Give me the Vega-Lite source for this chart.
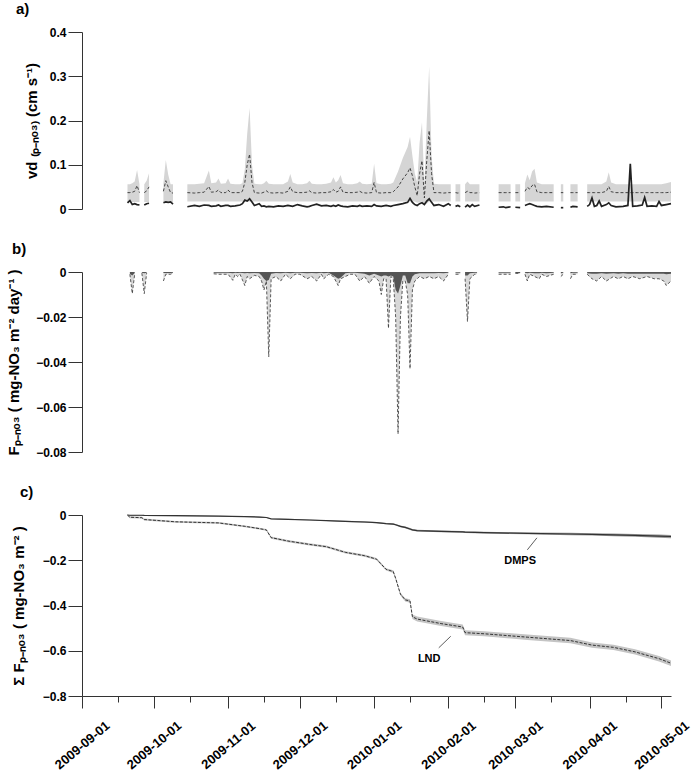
{
  "$schema": "https://vega.github.io/schema/vega-lite/v6.json",
  "padding": {"top": 2, "left": 6, "right": 5, "bottom": 0},
  "spacing": 27,
  "config": {
    "view": {"stroke": null},
    "font": "Liberation Sans",
    "axis": {
      "grid": false,
      "labelFont": "Liberation Sans",
      "labelFontWeight": "bold",
      "labelFontSize": 12,
      "labelColor": "#000",
      "titleFont": "Liberation Sans",
      "titleFontWeight": "bold",
      "titleFontSize": 15,
      "titleColor": "#000",
      "domainColor": "#333",
      "tickColor": "#333",
      "tickSize": 14,
      "labelPadding": 2
    },
    "title": {"fontSize": 15, "fontWeight": "bold", "font": "Liberation Sans", "anchor": "start", "frame": "group", "offset": 9}
  },
  "datasets": {
    "va": [
      {"d": "2009-09-20", "s": 1, "lo": 0.016, "hi": 0.056, "m": 0.037, "k": 0.014},
      {"d": "2009-09-21", "s": 1, "lo": 0.016, "hi": 0.056, "m": 0.037, "k": 0.019},
      {"d": "2009-09-22", "s": 1, "lo": 0.016, "hi": 0.058, "m": 0.038, "k": 0.010},
      {"d": "2009-09-23", "s": 1, "lo": 0.016, "hi": 0.062, "m": 0.040, "k": 0.012},
      {"d": "2009-09-24", "s": 1, "lo": 0.016, "hi": 0.088, "m": 0.053, "k": 0.010},
      {"d": "2009-09-25", "s": 1, "lo": 0.016, "hi": 0.056, "m": 0.037, "k": 0.009},
      {"d": "2009-09-27", "s": 2, "lo": 0.016, "hi": 0.056, "m": 0.037, "k": 0.009},
      {"d": "2009-09-28", "s": 2, "lo": 0.016, "hi": 0.064, "m": 0.041, "k": 0.012},
      {"d": "2009-09-29", "s": 2, "lo": 0.016, "hi": 0.081, "m": 0.050, "k": 0.013},
      {"d": "2009-10-05", "s": 3, "lo": 0.016, "hi": 0.058, "m": 0.040, "k": 0.014},
      {"d": "2009-10-06", "s": 3, "lo": 0.016, "hi": 0.111, "m": 0.064, "k": 0.016},
      {"d": "2009-10-07", "s": 3, "lo": 0.016, "hi": 0.078, "m": 0.050, "k": 0.015},
      {"d": "2009-10-08", "s": 3, "lo": 0.016, "hi": 0.056, "m": 0.037, "k": 0.016},
      {"d": "2009-10-09", "s": 3, "lo": 0.016, "hi": 0.056, "m": 0.036, "k": 0.011},
      {"d": "2009-10-15", "s": 4, "lo": 0.017, "hi": 0.056, "m": 0.037, "k": 0.005},
      {"d": "2009-10-18", "s": 4, "lo": 0.017, "hi": 0.056, "m": 0.036, "k": 0.008},
      {"d": "2009-10-20", "s": 4, "lo": 0.017, "hi": 0.057, "m": 0.037, "k": 0.006},
      {"d": "2009-10-22", "s": 4, "lo": 0.017, "hi": 0.058, "m": 0.038, "k": 0.009},
      {"d": "2009-10-24", "s": 4, "lo": 0.017, "hi": 0.087, "m": 0.051, "k": 0.008},
      {"d": "2009-10-25", "s": 4, "lo": 0.017, "hi": 0.058, "m": 0.038, "k": 0.006},
      {"d": "2009-10-27", "s": 4, "lo": 0.017, "hi": 0.060, "m": 0.039, "k": 0.007},
      {"d": "2009-10-28", "s": 4, "lo": 0.017, "hi": 0.069, "m": 0.043, "k": 0.009},
      {"d": "2009-10-29", "s": 4, "lo": 0.017, "hi": 0.057, "m": 0.037, "k": 0.006},
      {"d": "2009-10-31", "s": 4, "lo": 0.017, "hi": 0.058, "m": 0.037, "k": 0.008},
      {"d": "2009-11-01", "s": 4, "lo": 0.017, "hi": 0.069, "m": 0.043, "k": 0.008},
      {"d": "2009-11-02", "s": 4, "lo": 0.017, "hi": 0.057, "m": 0.037, "k": 0.006},
      {"d": "2009-11-04", "s": 4, "lo": 0.017, "hi": 0.056, "m": 0.037, "k": 0.007},
      {"d": "2009-11-06", "s": 4, "lo": 0.017, "hi": 0.056, "m": 0.037, "k": 0.009},
      {"d": "2009-11-07", "s": 4, "lo": 0.017, "hi": 0.058, "m": 0.040, "k": 0.012},
      {"d": "2009-11-08", "s": 4, "lo": 0.017, "hi": 0.090, "m": 0.060, "k": 0.020},
      {"d": "2009-11-09", "s": 4, "lo": 0.017, "hi": 0.170, "m": 0.100, "k": 0.018},
      {"d": "2009-11-10", "s": 4, "lo": 0.017, "hi": 0.228, "m": 0.124, "k": 0.023},
      {"d": "2009-11-11", "s": 4, "lo": 0.017, "hi": 0.100, "m": 0.060, "k": 0.016},
      {"d": "2009-11-12", "s": 4, "lo": 0.017, "hi": 0.057, "m": 0.037, "k": 0.008},
      {"d": "2009-11-14", "s": 4, "lo": 0.017, "hi": 0.056, "m": 0.036, "k": 0.012},
      {"d": "2009-11-15", "s": 4, "lo": 0.017, "hi": 0.056, "m": 0.036, "k": 0.006},
      {"d": "2009-11-16", "s": 4, "lo": 0.017, "hi": 0.058, "m": 0.038, "k": 0.007},
      {"d": "2009-11-17", "s": 4, "lo": 0.017, "hi": 0.064, "m": 0.041, "k": 0.005},
      {"d": "2009-11-18", "s": 4, "lo": 0.017, "hi": 0.057, "m": 0.037, "k": 0.006},
      {"d": "2009-11-20", "s": 4, "lo": 0.017, "hi": 0.056, "m": 0.036, "k": 0.005},
      {"d": "2009-11-22", "s": 4, "lo": 0.017, "hi": 0.056, "m": 0.037, "k": 0.007},
      {"d": "2009-11-24", "s": 4, "lo": 0.017, "hi": 0.056, "m": 0.036, "k": 0.006},
      {"d": "2009-11-26", "s": 4, "lo": 0.017, "hi": 0.062, "m": 0.040, "k": 0.008},
      {"d": "2009-11-27", "s": 4, "lo": 0.017, "hi": 0.079, "m": 0.050, "k": 0.007},
      {"d": "2009-11-28", "s": 4, "lo": 0.017, "hi": 0.060, "m": 0.039, "k": 0.006},
      {"d": "2009-11-30", "s": 4, "lo": 0.017, "hi": 0.056, "m": 0.037, "k": 0.010},
      {"d": "2009-12-02", "s": 4, "lo": 0.017, "hi": 0.056, "m": 0.037, "k": 0.007},
      {"d": "2009-12-04", "s": 4, "lo": 0.017, "hi": 0.058, "m": 0.038, "k": 0.005},
      {"d": "2009-12-05", "s": 4, "lo": 0.017, "hi": 0.064, "m": 0.041, "k": 0.006},
      {"d": "2009-12-06", "s": 4, "lo": 0.017, "hi": 0.057, "m": 0.037, "k": 0.008},
      {"d": "2009-12-08", "s": 4, "lo": 0.017, "hi": 0.056, "m": 0.036, "k": 0.011},
      {"d": "2009-12-10", "s": 4, "lo": 0.017, "hi": 0.056, "m": 0.037, "k": 0.007},
      {"d": "2009-12-12", "s": 4, "lo": 0.017, "hi": 0.057, "m": 0.037, "k": 0.008},
      {"d": "2009-12-14", "s": 4, "lo": 0.017, "hi": 0.060, "m": 0.039, "k": 0.006},
      {"d": "2009-12-15", "s": 4, "lo": 0.017, "hi": 0.072, "m": 0.044, "k": 0.008},
      {"d": "2009-12-16", "s": 4, "lo": 0.017, "hi": 0.060, "m": 0.038, "k": 0.006},
      {"d": "2009-12-17", "s": 4, "lo": 0.017, "hi": 0.065, "m": 0.040, "k": 0.009},
      {"d": "2009-12-18", "s": 4, "lo": 0.017, "hi": 0.077, "m": 0.050, "k": 0.007},
      {"d": "2009-12-19", "s": 4, "lo": 0.017, "hi": 0.058, "m": 0.038, "k": 0.006},
      {"d": "2009-12-21", "s": 4, "lo": 0.017, "hi": 0.056, "m": 0.037, "k": 0.005},
      {"d": "2009-12-23", "s": 4, "lo": 0.017, "hi": 0.056, "m": 0.037, "k": 0.007},
      {"d": "2009-12-25", "s": 4, "lo": 0.017, "hi": 0.058, "m": 0.038, "k": 0.006},
      {"d": "2009-12-26", "s": 4, "lo": 0.017, "hi": 0.062, "m": 0.040, "k": 0.008},
      {"d": "2009-12-27", "s": 4, "lo": 0.017, "hi": 0.057, "m": 0.037, "k": 0.006},
      {"d": "2009-12-29", "s": 4, "lo": 0.017, "hi": 0.056, "m": 0.036, "k": 0.007},
      {"d": "2009-12-31", "s": 4, "lo": 0.017, "hi": 0.057, "m": 0.037, "k": 0.006},
      {"d": "2010-01-01", "s": 4, "lo": 0.017, "hi": 0.102, "m": 0.060, "k": 0.010},
      {"d": "2010-01-02", "s": 4, "lo": 0.017, "hi": 0.058, "m": 0.037, "k": 0.007},
      {"d": "2010-01-04", "s": 4, "lo": 0.017, "hi": 0.056, "m": 0.036, "k": 0.006},
      {"d": "2010-01-06", "s": 4, "lo": 0.017, "hi": 0.056, "m": 0.037, "k": 0.008},
      {"d": "2010-01-08", "s": 4, "lo": 0.017, "hi": 0.057, "m": 0.037, "k": 0.006},
      {"d": "2010-01-09", "s": 4, "lo": 0.017, "hi": 0.060, "m": 0.039, "k": 0.008},
      {"d": "2010-01-11", "s": 4, "lo": 0.017, "hi": 0.085, "m": 0.050, "k": 0.010},
      {"d": "2010-01-13", "s": 4, "lo": 0.017, "hi": 0.115, "m": 0.068, "k": 0.012},
      {"d": "2010-01-15", "s": 4, "lo": 0.017, "hi": 0.140, "m": 0.082, "k": 0.015},
      {"d": "2010-01-16", "s": 4, "lo": 0.017, "hi": 0.163, "m": 0.093, "k": 0.024},
      {"d": "2010-01-17", "s": 4, "lo": 0.017, "hi": 0.120, "m": 0.075, "k": 0.015},
      {"d": "2010-01-18", "s": 4, "lo": 0.017, "hi": 0.080, "m": 0.050, "k": 0.010},
      {"d": "2010-01-19", "s": 4, "lo": 0.014, "hi": 0.060, "m": 0.030, "k": 0.008},
      {"d": "2010-01-20", "s": 4, "lo": 0.015, "hi": 0.150, "m": 0.080, "k": 0.012},
      {"d": "2010-01-21", "s": 4, "lo": 0.017, "hi": 0.196, "m": 0.109, "k": 0.014},
      {"d": "2010-01-22", "s": 4, "lo": 0.010, "hi": 0.050, "m": 0.025, "k": 0.010},
      {"d": "2010-01-23", "s": 4, "lo": 0.012, "hi": 0.200, "m": 0.110, "k": 0.018},
      {"d": "2010-01-24", "s": 4, "lo": 0.017, "hi": 0.322, "m": 0.177, "k": 0.023},
      {"d": "2010-01-25", "s": 4, "lo": 0.017, "hi": 0.120, "m": 0.080, "k": 0.015},
      {"d": "2010-01-26", "s": 4, "lo": 0.017, "hi": 0.057, "m": 0.037, "k": 0.008},
      {"d": "2010-01-28", "s": 4, "lo": 0.017, "hi": 0.056, "m": 0.037, "k": 0.010},
      {"d": "2010-01-30", "s": 4, "lo": 0.017, "hi": 0.056, "m": 0.036, "k": 0.006},
      {"d": "2010-02-01", "s": 4, "lo": 0.017, "hi": 0.056, "m": 0.037, "k": 0.012},
      {"d": "2010-02-02", "s": 4, "lo": 0.017, "hi": 0.056, "m": 0.037, "k": 0.008},
      {"d": "2010-02-04", "s": 5, "lo": 0.017, "hi": 0.056, "m": 0.037, "k": 0.006},
      {"d": "2010-02-05", "s": 5, "lo": 0.017, "hi": 0.056, "m": 0.036, "k": 0.008},
      {"d": "2010-02-06", "s": 5, "lo": 0.017, "hi": 0.056, "m": 0.037, "k": 0.005},
      {"d": "2010-02-08", "s": 6, "lo": 0.017, "hi": 0.056, "m": 0.037, "k": 0.004},
      {"d": "2010-02-09", "s": 6, "lo": 0.017, "hi": 0.062, "m": 0.040, "k": 0.009},
      {"d": "2010-02-10", "s": 6, "lo": 0.017, "hi": 0.056, "m": 0.037, "k": 0.005},
      {"d": "2010-02-11", "s": 6, "lo": 0.017, "hi": 0.056, "m": 0.037, "k": 0.010},
      {"d": "2010-02-12", "s": 6, "lo": 0.017, "hi": 0.056, "m": 0.036, "k": 0.006},
      {"d": "2010-02-14", "s": 6, "lo": 0.017, "hi": 0.056, "m": 0.037, "k": 0.009},
      {"d": "2010-02-22", "s": 7, "lo": 0.017, "hi": 0.056, "m": 0.037, "k": 0.004},
      {"d": "2010-02-24", "s": 7, "lo": 0.017, "hi": 0.056, "m": 0.037, "k": 0.005},
      {"d": "2010-02-25", "s": 7, "lo": 0.017, "hi": 0.056, "m": 0.037, "k": 0.003},
      {"d": "2010-02-27", "s": 7, "lo": 0.017, "hi": 0.056, "m": 0.037, "k": 0.005},
      {"d": "2010-03-01", "s": 8, "lo": 0.017, "hi": 0.056, "m": 0.037, "k": 0.004},
      {"d": "2010-03-03", "s": 8, "lo": 0.017, "hi": 0.056, "m": 0.037, "k": 0.003},
      {"d": "2010-03-05", "s": 9, "lo": 0.017, "hi": 0.058, "m": 0.040, "k": 0.008},
      {"d": "2010-03-06", "s": 9, "lo": 0.017, "hi": 0.078, "m": 0.049, "k": 0.010},
      {"d": "2010-03-07", "s": 9, "lo": 0.017, "hi": 0.065, "m": 0.045, "k": 0.012},
      {"d": "2010-03-08", "s": 9, "lo": 0.017, "hi": 0.085, "m": 0.053, "k": 0.010},
      {"d": "2010-03-09", "s": 9, "lo": 0.017, "hi": 0.091, "m": 0.056, "k": 0.008},
      {"d": "2010-03-10", "s": 9, "lo": 0.017, "hi": 0.060, "m": 0.039, "k": 0.006},
      {"d": "2010-03-12", "s": 9, "lo": 0.017, "hi": 0.056, "m": 0.037, "k": 0.005},
      {"d": "2010-03-14", "s": 9, "lo": 0.017, "hi": 0.056, "m": 0.037, "k": 0.006},
      {"d": "2010-03-17", "s": 9, "lo": 0.017, "hi": 0.056, "m": 0.037, "k": 0.004},
      {"d": "2010-03-20", "s": 10, "lo": 0.017, "hi": 0.056, "m": 0.037, "k": 0.003},
      {"d": "2010-03-21", "s": 10, "lo": 0.017, "hi": 0.056, "m": 0.037, "k": 0.003},
      {"d": "2010-03-24", "s": 11, "lo": 0.017, "hi": 0.056, "m": 0.037, "k": 0.004},
      {"d": "2010-03-25", "s": 11, "lo": 0.017, "hi": 0.056, "m": 0.037, "k": 0.006},
      {"d": "2010-03-27", "s": 11, "lo": 0.017, "hi": 0.056, "m": 0.037, "k": 0.005},
      {"d": "2010-03-31", "s": 12, "lo": 0.017, "hi": 0.056, "m": 0.037, "k": 0.006},
      {"d": "2010-04-01", "s": 12, "lo": 0.017, "hi": 0.056, "m": 0.037, "k": 0.010},
      {"d": "2010-04-02", "s": 12, "lo": 0.017, "hi": 0.056, "m": 0.037, "k": 0.025},
      {"d": "2010-04-03", "s": 12, "lo": 0.017, "hi": 0.056, "m": 0.037, "k": 0.006},
      {"d": "2010-04-04", "s": 12, "lo": 0.017, "hi": 0.056, "m": 0.037, "k": 0.008},
      {"d": "2010-04-05", "s": 12, "lo": 0.017, "hi": 0.056, "m": 0.037, "k": 0.018},
      {"d": "2010-04-06", "s": 12, "lo": 0.017, "hi": 0.056, "m": 0.037, "k": 0.006},
      {"d": "2010-04-08", "s": 12, "lo": 0.017, "hi": 0.062, "m": 0.040, "k": 0.010},
      {"d": "2010-04-09", "s": 12, "lo": 0.017, "hi": 0.083, "m": 0.051, "k": 0.014},
      {"d": "2010-04-10", "s": 12, "lo": 0.017, "hi": 0.060, "m": 0.039, "k": 0.008},
      {"d": "2010-04-12", "s": 12, "lo": 0.017, "hi": 0.056, "m": 0.037, "k": 0.005},
      {"d": "2010-04-15", "s": 12, "lo": 0.017, "hi": 0.056, "m": 0.037, "k": 0.006},
      {"d": "2010-04-17", "s": 12, "lo": 0.017, "hi": 0.056, "m": 0.037, "k": 0.008},
      {"d": "2010-04-18", "s": 12, "lo": 0.017, "hi": 0.056, "m": 0.037, "k": 0.102},
      {"d": "2010-04-19", "s": 12, "lo": 0.017, "hi": 0.056, "m": 0.037, "k": 0.006},
      {"d": "2010-04-21", "s": 12, "lo": 0.017, "hi": 0.056, "m": 0.037, "k": 0.007},
      {"d": "2010-04-23", "s": 12, "lo": 0.017, "hi": 0.056, "m": 0.037, "k": 0.009},
      {"d": "2010-04-24", "s": 12, "lo": 0.017, "hi": 0.056, "m": 0.037, "k": 0.026},
      {"d": "2010-04-25", "s": 12, "lo": 0.017, "hi": 0.056, "m": 0.037, "k": 0.006},
      {"d": "2010-04-27", "s": 12, "lo": 0.017, "hi": 0.056, "m": 0.037, "k": 0.007},
      {"d": "2010-04-29", "s": 12, "lo": 0.017, "hi": 0.056, "m": 0.037, "k": 0.006},
      {"d": "2010-04-30", "s": 12, "lo": 0.017, "hi": 0.056, "m": 0.037, "k": 0.017},
      {"d": "2010-05-01", "s": 12, "lo": 0.017, "hi": 0.056, "m": 0.037, "k": 0.008},
      {"d": "2010-05-03", "s": 12, "lo": 0.017, "hi": 0.058, "m": 0.037, "k": 0.010},
      {"d": "2010-05-05", "s": 12, "lo": 0.017, "hi": 0.061, "m": 0.038, "k": 0.012}
    ],
    "fb": [
      {"d": "2009-09-21", "s": 1, "g": -0.001, "k": -0.0008},
      {"d": "2009-09-22", "s": 1, "g": -0.0096, "k": -0.0015},
      {"d": "2009-09-23", "s": 1, "g": -0.001, "k": -0.0004},
      {"d": "2009-09-26", "s": 2, "g": -0.0005, "k": -0.0003},
      {"d": "2009-09-27", "s": 2, "g": -0.0096, "k": -0.0006},
      {"d": "2009-09-28", "s": 2, "g": -0.0005, "k": -0.0003},
      {"d": "2009-10-05", "s": 3, "g": -0.004, "k": -0.0004},
      {"d": "2009-10-06", "s": 3, "g": -0.001, "k": -0.0004},
      {"d": "2009-10-08", "s": 3, "g": -0.001, "k": -0.0004},
      {"d": "2009-10-09", "s": 3, "g": -0.0005, "k": -0.0003},
      {"d": "2009-10-26", "s": 4, "g": -0.0008, "k": -0.0003},
      {"d": "2009-10-28", "s": 4, "g": -0.001, "k": -0.0003},
      {"d": "2009-10-30", "s": 4, "g": -0.001, "k": -0.0003},
      {"d": "2009-11-01", "s": 4, "g": -0.001, "k": -0.0003},
      {"d": "2009-11-03", "s": 4, "g": -0.0037, "k": -0.0005},
      {"d": "2009-11-04", "s": 4, "g": -0.001, "k": -0.0003},
      {"d": "2009-11-05", "s": 4, "g": -0.002, "k": -0.0004},
      {"d": "2009-11-06", "s": 4, "g": -0.001, "k": -0.0003},
      {"d": "2009-11-08", "s": 4, "g": -0.006, "k": -0.0006},
      {"d": "2009-11-09", "s": 4, "g": -0.002, "k": -0.0004},
      {"d": "2009-11-10", "s": 4, "g": -0.003, "k": -0.0005},
      {"d": "2009-11-12", "s": 4, "g": -0.0015, "k": -0.0004},
      {"d": "2009-11-14", "s": 4, "g": -0.002, "k": -0.0006},
      {"d": "2009-11-15", "s": 4, "g": -0.004, "k": -0.0015},
      {"d": "2009-11-16", "s": 4, "g": -0.008, "k": -0.003},
      {"d": "2009-11-17", "s": 4, "g": -0.004, "k": -0.004},
      {"d": "2009-11-18", "s": 4, "g": -0.0377, "k": -0.0035},
      {"d": "2009-11-19", "s": 4, "g": -0.003, "k": -0.0008},
      {"d": "2009-11-21", "s": 4, "g": -0.002, "k": -0.0004},
      {"d": "2009-11-23", "s": 4, "g": -0.004, "k": -0.0005},
      {"d": "2009-11-25", "s": 4, "g": -0.001, "k": -0.0003},
      {"d": "2009-11-27", "s": 4, "g": -0.003, "k": -0.0005},
      {"d": "2009-11-29", "s": 4, "g": -0.001, "k": -0.0003},
      {"d": "2009-12-01", "s": 4, "g": -0.001, "k": -0.0003},
      {"d": "2009-12-04", "s": 4, "g": -0.003, "k": -0.0005},
      {"d": "2009-12-06", "s": 4, "g": -0.002, "k": -0.0004},
      {"d": "2009-12-08", "s": 4, "g": -0.004, "k": -0.0005},
      {"d": "2009-12-10", "s": 4, "g": -0.001, "k": -0.0003},
      {"d": "2009-12-11", "s": 4, "g": -0.003, "k": -0.0005},
      {"d": "2009-12-13", "s": 4, "g": -0.001, "k": -0.0003},
      {"d": "2009-12-15", "s": 4, "g": -0.002, "k": -0.0015},
      {"d": "2009-12-17", "s": 4, "g": -0.006, "k": -0.003},
      {"d": "2009-12-18", "s": 4, "g": -0.003, "k": -0.0025},
      {"d": "2009-12-20", "s": 4, "g": -0.002, "k": -0.0006},
      {"d": "2009-12-22", "s": 4, "g": -0.001, "k": -0.0003},
      {"d": "2009-12-24", "s": 4, "g": -0.001, "k": -0.0003},
      {"d": "2009-12-26", "s": 4, "g": -0.004, "k": -0.0006},
      {"d": "2009-12-28", "s": 4, "g": -0.002, "k": -0.0008},
      {"d": "2009-12-30", "s": 4, "g": -0.005, "k": -0.0015},
      {"d": "2010-01-01", "s": 4, "g": -0.002, "k": -0.0008},
      {"d": "2010-01-03", "s": 4, "g": -0.004, "k": -0.0015},
      {"d": "2010-01-04", "s": 4, "g": -0.010, "k": -0.002},
      {"d": "2010-01-05", "s": 4, "g": -0.003, "k": -0.0015},
      {"d": "2010-01-06", "s": 4, "g": -0.003, "k": -0.0015},
      {"d": "2010-01-07", "s": 4, "g": -0.025, "k": -0.002},
      {"d": "2010-01-08", "s": 4, "g": -0.002, "k": -0.0015},
      {"d": "2010-01-09", "s": 4, "g": -0.003, "k": -0.002},
      {"d": "2010-01-10", "s": 4, "g": -0.020, "k": -0.008},
      {"d": "2010-01-11", "s": 4, "g": -0.072, "k": -0.0096},
      {"d": "2010-01-12", "s": 4, "g": -0.020, "k": -0.006},
      {"d": "2010-01-13", "s": 4, "g": -0.004, "k": -0.0015},
      {"d": "2010-01-14", "s": 4, "g": -0.004, "k": -0.0015},
      {"d": "2010-01-15", "s": 4, "g": -0.010, "k": -0.005},
      {"d": "2010-01-16", "s": 4, "g": -0.043, "k": -0.005},
      {"d": "2010-01-17", "s": 4, "g": -0.008, "k": -0.002},
      {"d": "2010-01-18", "s": 4, "g": -0.004, "k": -0.001},
      {"d": "2010-01-20", "s": 4, "g": -0.002, "k": -0.0005},
      {"d": "2010-01-22", "s": 4, "g": -0.003, "k": -0.0005},
      {"d": "2010-01-24", "s": 4, "g": -0.002, "k": -0.0005},
      {"d": "2010-01-26", "s": 4, "g": -0.003, "k": -0.0005},
      {"d": "2010-01-28", "s": 4, "g": -0.002, "k": -0.0004},
      {"d": "2010-01-30", "s": 4, "g": -0.004, "k": -0.0005},
      {"d": "2010-02-01", "s": 4, "g": -0.001, "k": -0.0003},
      {"d": "2010-02-04", "s": 5, "g": -0.001, "k": -0.0003},
      {"d": "2010-02-06", "s": 5, "g": -0.001, "k": -0.0003},
      {"d": "2010-02-08", "s": 6, "g": -0.003, "k": -0.0015},
      {"d": "2010-02-09", "s": 6, "g": -0.022, "k": -0.0015},
      {"d": "2010-02-10", "s": 6, "g": -0.003, "k": -0.0006},
      {"d": "2010-02-12", "s": 6, "g": -0.001, "k": -0.0003},
      {"d": "2010-02-13", "s": 6, "g": -0.001, "k": -0.0003},
      {"d": "2010-02-22", "s": 7, "g": -0.001, "k": -0.0003},
      {"d": "2010-02-27", "s": 7, "g": -0.001, "k": -0.0003},
      {"d": "2010-03-01", "s": 8, "g": -0.0006, "k": -0.0005},
      {"d": "2010-03-03", "s": 8, "g": -0.0006, "k": -0.0005},
      {"d": "2010-03-05", "s": 9, "g": -0.001, "k": -0.0003},
      {"d": "2010-03-06", "s": 9, "g": -0.004, "k": -0.0006},
      {"d": "2010-03-07", "s": 9, "g": -0.001, "k": -0.0003},
      {"d": "2010-03-09", "s": 9, "g": -0.002, "k": -0.0005},
      {"d": "2010-03-11", "s": 9, "g": -0.003, "k": -0.0005},
      {"d": "2010-03-12", "s": 9, "g": -0.001, "k": -0.0003},
      {"d": "2010-03-14", "s": 9, "g": -0.002, "k": -0.0005},
      {"d": "2010-03-17", "s": 9, "g": -0.001, "k": -0.0003},
      {"d": "2010-03-20", "s": 10, "g": -0.002, "k": -0.0005},
      {"d": "2010-03-21", "s": 10, "g": -0.001, "k": -0.0003},
      {"d": "2010-03-24", "s": 11, "g": -0.003, "k": -0.0005},
      {"d": "2010-03-25", "s": 11, "g": -0.001, "k": -0.0003},
      {"d": "2010-03-27", "s": 11, "g": -0.001, "k": -0.0003},
      {"d": "2010-03-31", "s": 12, "g": -0.001, "k": -0.0005},
      {"d": "2010-04-02", "s": 12, "g": -0.003, "k": -0.0008},
      {"d": "2010-04-04", "s": 12, "g": -0.004, "k": -0.0008},
      {"d": "2010-04-06", "s": 12, "g": -0.002, "k": -0.0006},
      {"d": "2010-04-08", "s": 12, "g": -0.004, "k": -0.0008},
      {"d": "2010-04-11", "s": 12, "g": -0.002, "k": -0.0006},
      {"d": "2010-04-13", "s": 12, "g": -0.003, "k": -0.0008},
      {"d": "2010-04-15", "s": 12, "g": -0.002, "k": -0.0006},
      {"d": "2010-04-17", "s": 12, "g": -0.003, "k": -0.0008},
      {"d": "2010-04-19", "s": 12, "g": -0.002, "k": -0.0008},
      {"d": "2010-04-22", "s": 12, "g": -0.003, "k": -0.0008},
      {"d": "2010-04-25", "s": 12, "g": -0.002, "k": -0.0008},
      {"d": "2010-04-28", "s": 12, "g": -0.003, "k": -0.0008},
      {"d": "2010-04-30", "s": 12, "g": -0.003, "k": -0.0008},
      {"d": "2010-05-02", "s": 12, "g": -0.004, "k": -0.0008},
      {"d": "2010-05-03", "s": 12, "g": -0.006, "k": -0.001},
      {"d": "2010-05-05", "s": 12, "g": -0.004, "k": -0.0008}
    ],
    "cu": [
      {"d": "2009-09-20", "l": 0, "llo": -0.004, "lhi": 0.0, "p": 0, "plo": -0.002, "phi": 0.0},
      {"d": "2009-09-21", "l": -0.010, "llo": -0.014, "lhi": -0.006, "p": -0.001, "plo": -0.003, "phi": 0.0},
      {"d": "2009-09-26", "l": -0.012, "llo": -0.016, "lhi": -0.008, "p": -0.001, "plo": -0.003, "phi": 0.0},
      {"d": "2009-09-27", "l": -0.020, "llo": -0.024, "lhi": -0.016, "p": -0.002, "plo": -0.004, "phi": 0.0},
      {"d": "2009-10-10", "l": -0.030, "llo": -0.034, "lhi": -0.026, "p": -0.003, "plo": -0.005, "phi": -0.001},
      {"d": "2009-10-28", "l": -0.035, "llo": -0.039, "lhi": -0.031, "p": -0.005, "plo": -0.007, "phi": -0.003},
      {"d": "2009-11-08", "l": -0.050, "llo": -0.054, "lhi": -0.046, "p": -0.007, "plo": -0.009, "phi": -0.005},
      {"d": "2009-11-14", "l": -0.060, "llo": -0.064, "lhi": -0.056, "p": -0.009, "plo": -0.011, "phi": -0.007},
      {"d": "2009-11-17", "l": -0.066, "llo": -0.070, "lhi": -0.062, "p": -0.011, "plo": -0.013, "phi": -0.009},
      {"d": "2009-11-19", "l": -0.100, "llo": -0.105, "lhi": -0.095, "p": -0.017, "plo": -0.019, "phi": -0.015},
      {"d": "2009-11-26", "l": -0.115, "llo": -0.120, "lhi": -0.110, "p": -0.019, "plo": -0.021, "phi": -0.017},
      {"d": "2009-12-05", "l": -0.130, "llo": -0.135, "lhi": -0.125, "p": -0.022, "plo": -0.024, "phi": -0.020},
      {"d": "2009-12-12", "l": -0.140, "llo": -0.145, "lhi": -0.135, "p": -0.025, "plo": -0.027, "phi": -0.023},
      {"d": "2009-12-20", "l": -0.165, "llo": -0.170, "lhi": -0.160, "p": -0.028, "plo": -0.031, "phi": -0.025},
      {"d": "2009-12-28", "l": -0.180, "llo": -0.185, "lhi": -0.175, "p": -0.031, "plo": -0.034, "phi": -0.028},
      {"d": "2010-01-02", "l": -0.195, "llo": -0.200, "lhi": -0.190, "p": -0.034, "plo": -0.037, "phi": -0.031},
      {"d": "2010-01-06", "l": -0.240, "llo": -0.245, "lhi": -0.235, "p": -0.038, "plo": -0.041, "phi": -0.035},
      {"d": "2010-01-09", "l": -0.250, "llo": -0.256, "lhi": -0.244, "p": -0.040, "plo": -0.043, "phi": -0.037},
      {"d": "2010-01-10", "l": -0.280, "llo": -0.286, "lhi": -0.274, "p": -0.043, "plo": -0.046, "phi": -0.040},
      {"d": "2010-01-12", "l": -0.350, "llo": -0.356, "lhi": -0.344, "p": -0.050, "plo": -0.054, "phi": -0.046},
      {"d": "2010-01-14", "l": -0.375, "llo": -0.382, "lhi": -0.368, "p": -0.055, "plo": -0.059, "phi": -0.051},
      {"d": "2010-01-16", "l": -0.380, "llo": -0.388, "lhi": -0.372, "p": -0.062, "plo": -0.066, "phi": -0.058},
      {"d": "2010-01-17", "l": -0.450, "llo": -0.460, "lhi": -0.440, "p": -0.066, "plo": -0.070, "phi": -0.062},
      {"d": "2010-01-19", "l": -0.460, "llo": -0.471, "lhi": -0.449, "p": -0.069, "plo": -0.073, "phi": -0.065},
      {"d": "2010-01-29", "l": -0.480, "llo": -0.491, "lhi": -0.469, "p": -0.072, "plo": -0.076, "phi": -0.068},
      {"d": "2010-02-07", "l": -0.495, "llo": -0.506, "lhi": -0.484, "p": -0.075, "plo": -0.079, "phi": -0.071},
      {"d": "2010-02-08", "l": -0.520, "llo": -0.531, "lhi": -0.509, "p": -0.076, "plo": -0.080, "phi": -0.072},
      {"d": "2010-02-16", "l": -0.525, "llo": -0.536, "lhi": -0.514, "p": -0.078, "plo": -0.082, "phi": -0.074},
      {"d": "2010-03-06", "l": -0.540, "llo": -0.552, "lhi": -0.528, "p": -0.081, "plo": -0.085, "phi": -0.077},
      {"d": "2010-03-24", "l": -0.555, "llo": -0.567, "lhi": -0.543, "p": -0.084, "plo": -0.089, "phi": -0.079},
      {"d": "2010-04-02", "l": -0.575, "llo": -0.587, "lhi": -0.563, "p": -0.086, "plo": -0.091, "phi": -0.081},
      {"d": "2010-04-11", "l": -0.585, "llo": -0.597, "lhi": -0.573, "p": -0.088, "plo": -0.094, "phi": -0.082},
      {"d": "2010-04-20", "l": -0.605, "llo": -0.617, "lhi": -0.593, "p": -0.090, "plo": -0.096, "phi": -0.084},
      {"d": "2010-04-30", "l": -0.635, "llo": -0.647, "lhi": -0.623, "p": -0.093, "plo": -0.100, "phi": -0.086},
      {"d": "2010-05-05", "l": -0.655, "llo": -0.667, "lhi": -0.643, "p": -0.095, "plo": -0.103, "phi": -0.088}
    ],
    "lbl": [
      {"t": "DMPS", "d": "2010-03-03", "v": -0.205},
      {"t": "LND", "d": "2010-01-24", "v": -0.636}
    ],
    "ldr": [
      {"d": "2010-03-06", "v": -0.154, "d2": "2010-03-10", "v2": -0.101},
      {"d": "2010-01-28", "v": -0.587, "d2": "2010-02-02", "v2": -0.536}
    ]
  },
  "vconcat": [
    {
      "title": {"text": "a)", "dx": -66},
      "width": 589,
      "height": 177,
      "data": {"name": "va"},
      "encoding": {
        "x": {"field": "d", "type": "temporal", "axis": null,
              "scale": {"type": "utc", "domain": [{"year": 2009, "month": 9, "date": 1, "utc": true}, {"year": 2010, "month": 5, "date": 5, "utc": true}]}}
      },
      "layer": [
        {
          "mark": {"type": "area", "color": "#d5d5d5"},
          "encoding": {
            "y": {"field": "lo", "type": "quantitative",
                  "scale": {"domain": [0, 0.4], "nice": false},
                  "axis": {
                    "title": "vd ₍ₚ₋ₙₒ₃₎ (cm s⁻¹)",
                    "titlePadding": 10,
                    "values": [0, 0.05, 0.1, 0.15, 0.2, 0.25, 0.3, 0.35, 0.4],
                    "labelExpr": "abs(round(datum.value * 100)) % 10 == 0 ? format(datum.value, '~g') : ''",
                    "tickDash": {"condition": {"test": "abs(round(datum.value * 100)) % 10 != 0", "value": [6, 20]}, "value": []}
                  }},
            "y2": {"field": "hi"},
            "detail": {"field": "s"}
          }
        },
        {
          "mark": {"type": "line", "color": "#333", "strokeWidth": 0.9, "strokeDash": [3, 2]},
          "encoding": {"y": {"field": "m", "type": "quantitative"}, "detail": {"field": "s"}}
        },
        {
          "mark": {"type": "line", "color": "#222", "strokeWidth": 1.7},
          "encoding": {"y": {"field": "k", "type": "quantitative"}, "detail": {"field": "s"}}
        }
      ]
    },
    {
      "title": {"text": "b)", "dx": -70},
      "width": 589,
      "height": 180,
      "data": {"name": "fb"},
      "encoding": {
        "x": {"field": "d", "type": "temporal", "axis": null,
              "scale": {"type": "utc", "domain": [{"year": 2009, "month": 9, "date": 1, "utc": true}, {"year": 2010, "month": 5, "date": 5, "utc": true}]}}
      },
      "layer": [
        {
          "mark": {"type": "area", "color": "#d8d8d8"},
          "encoding": {
            "y": {"field": "g", "type": "quantitative",
                  "scale": {"domain": [-0.08, 0], "nice": false},
                  "axis": {
                    "title": "Fₚ₋ₙₒ₃ ( mg-NO₃ m⁻² day⁻¹ )",
                    "titlePadding": 14,
                    "values": [0, -0.01, -0.02, -0.03, -0.04, -0.05, -0.06, -0.07, -0.08],
                    "labelExpr": "abs(round(datum.value * 100)) % 2 == 0 ? format(datum.value, '~g') : ''",
                    "tickDash": {"condition": {"test": "abs(round(datum.value * 100)) % 2 != 0", "value": [6, 20]}, "value": []}
                  }},
            "y2": {"datum": 0},
            "detail": {"field": "s"}
          }
        },
        {
          "mark": {"type": "area", "color": "#555"},
          "encoding": {"y": {"field": "k", "type": "quantitative"}, "y2": {"datum": 0}, "detail": {"field": "s"}}
        },
        {
          "mark": {"type": "line", "color": "#333", "strokeWidth": 0.8, "strokeDash": [3, 2]},
          "encoding": {"y": {"field": "g", "type": "quantitative"}, "detail": {"field": "s"}}
        }
      ]
    },
    {
      "title": {"text": "c)", "dx": -62},
      "width": 589,
      "height": 181,
      "encoding": {
        "x": {"field": "d", "type": "temporal",
              "scale": {"type": "utc", "domain": [{"year": 2009, "month": 9, "date": 1, "utc": true}, {"year": 2010, "month": 5, "date": 5, "utc": true}]},
              "axis": {
                "title": null,
                "tickSize": 12,
                "values": [
                  {"year": 2009, "month": 9, "date": 1, "utc": true}, {"year": 2009, "month": 9, "date": 16, "utc": true},
                  {"year": 2009, "month": 10, "date": 1, "utc": true}, {"year": 2009, "month": 10, "date": 16, "utc": true},
                  {"year": 2009, "month": 11, "date": 1, "utc": true}, {"year": 2009, "month": 11, "date": 16, "utc": true},
                  {"year": 2009, "month": 12, "date": 1, "utc": true}, {"year": 2009, "month": 12, "date": 16, "utc": true},
                  {"year": 2010, "month": 1, "date": 1, "utc": true}, {"year": 2010, "month": 1, "date": 16, "utc": true},
                  {"year": 2010, "month": 2, "date": 1, "utc": true}, {"year": 2010, "month": 2, "date": 16, "utc": true},
                  {"year": 2010, "month": 3, "date": 1, "utc": true}, {"year": 2010, "month": 3, "date": 16, "utc": true},
                  {"year": 2010, "month": 4, "date": 1, "utc": true}, {"year": 2010, "month": 4, "date": 16, "utc": true},
                  {"year": 2010, "month": 5, "date": 1, "utc": true}
                ],
                "labelExpr": "utcdate(datum.value) == 1 ? utcFormat(datum.value, '%Y-%m-%d') : ''",
                "labelAngle": -40,
                "labelAlign": "center",
                "labelBaseline": "middle",
                "labelFontSize": 13,
                "labelPadding": 37,
                "labelOverlap": false,
                "labelFlush": false,
                "tickDash": {"condition": {"test": "utcdate(datum.value) != 1", "value": [6, 20]}, "value": []}
              }}
      },
      "layer": [
        {
          "data": {"name": "cu"},
          "mark": {"type": "area", "color": "#c4c4c4"},
          "encoding": {
            "y": {"field": "llo", "type": "quantitative",
                  "scale": {"domain": [-0.8, 0], "nice": false},
                  "axis": {
                    "title": "Σ Fₚ₋ₙₒ₃ ( mg-NO₃ m⁻² )",
                    "titlePadding": 16,
                    "values": [0, -0.1, -0.2, -0.3, -0.4, -0.5, -0.6, -0.7, -0.8],
                    "labelExpr": "abs(round(datum.value * 10)) % 2 == 0 ? format(datum.value, '~g') : ''",
                    "tickDash": {"condition": {"test": "abs(round(datum.value * 10)) % 2 != 0", "value": [6, 20]}, "value": []}
                  }},
            "y2": {"field": "lhi"}
          }
        },
        {
          "data": {"name": "cu"},
          "mark": {"type": "line", "color": "#222", "strokeWidth": 0.9, "strokeDash": [3, 1.5]},
          "encoding": {"y": {"field": "l", "type": "quantitative"}}
        },
        {
          "data": {"name": "cu"},
          "mark": {"type": "area", "color": "#9a9a9a"},
          "encoding": {"y": {"field": "plo", "type": "quantitative"}, "y2": {"field": "phi"}}
        },
        {
          "data": {"name": "cu"},
          "mark": {"type": "line", "color": "#333", "strokeWidth": 1.2},
          "encoding": {"y": {"field": "p", "type": "quantitative"}}
        },
        {
          "data": {"name": "ldr"},
          "mark": {"type": "rule", "color": "#333", "strokeWidth": 0.8},
          "encoding": {
            "y": {"field": "v", "type": "quantitative"},
            "x2": {"field": "d2"},
            "y2": {"field": "v2"}
          }
        },
        {
          "data": {"name": "lbl"},
          "mark": {"type": "text", "font": "Liberation Sans", "fontWeight": "bold", "fontSize": 11, "color": "#000"},
          "encoding": {
            "y": {"field": "v", "type": "quantitative"},
            "text": {"field": "t"}
          }
        }
      ]
    }
  ]
}
